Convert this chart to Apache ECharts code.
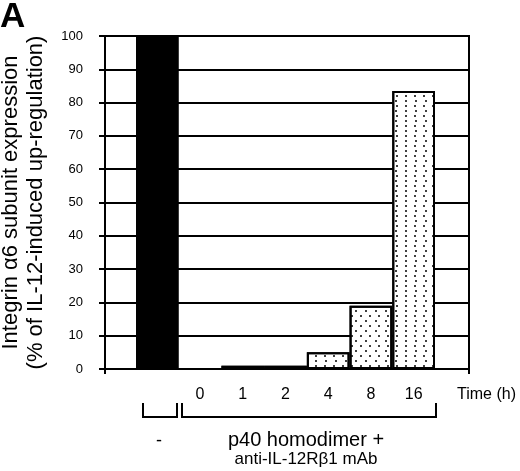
<!DOCTYPE html>
<html>
<head>
<meta charset="utf-8">
<script src="https://cdn.jsdelivr.net/npm/echarts@6/dist/echarts.min.js"></script>
<style>html,body{margin:0;padding:0;background:#fff;}#c{width:520px;height:471px;}</style>
</head>
<body>
<div id="c"></div>
<script>
const categories = ['-', '0', '1', '2', '4', '8', '16'];
const expression = [100, 0, 1, 1, 5, 19, 83.5];
const yMin = 0, yMax = 100, yStep = 10;
const yTitle = 'Integrin \u03b16 subunit expression\n(% of IL-12-induced up-regulation)';

const FONT = 'Liberation Sans, Arial, Helvetica, sans-serif';
const dotDecal = {
  symbol: 'circle',
  symbolSize: 1,
  color: '#000',
  dashArrayX: [[2, 7], [0, 4.5, 2, 2.5]],
  dashArrayY: [2, 2.4],
  rotation: 0
};
const barData = expression.map((v, i) => ({
  value: v,
  itemStyle: i === 0
    ? { color: '#000', borderColor: '#000', borderWidth: 1 }
    : { color: '#fff', borderColor: '#000', borderWidth: 2, decal: dotDecal }
}));

const chart = echarts.init(document.getElementById('c'), null, { renderer: 'canvas' });
chart.setOption({
  animation: false,
  backgroundColor: '#fff',
  textStyle: { fontFamily: FONT, color: '#000' },
  grid: [
    { left: 105, right: 51, top: 36, bottom: 102, containLabel: false, outerBoundsMode: 'none',
      show: true, borderColor: '#000', borderWidth: 2, backgroundColor: 'transparent' },
    { left: 136, right: 85, top: 36, bottom: 102, containLabel: false, outerBoundsMode: 'none' }
  ],
  xAxis: [
    { type: 'value', gridIndex: 0, min: 0, max: 1, interval: 1,
      axisLine: { show: true, lineStyle: { color: '#000', width: 2 } },
      axisTick: { show: true, length: 5, lineStyle: { color: '#000', width: 2 } },
      axisLabel: { show: false }, splitLine: { show: false } },
    { type: 'category', gridIndex: 1, data: categories,
      axisLine: { show: false }, axisTick: { show: false },
      axisLabel: { fontSize: 16, color: '#000', fontFamily: FONT, margin: 18, interval: 0,
        formatter: v => (v === '-' ? '' : v) } }
  ],
  yAxis: [
    { type: 'value', gridIndex: 0, min: yMin, max: yMax, interval: yStep,
      name: yTitle, nameLocation: 'middle', nameRotate: 90, nameGap: 57,
      nameTextStyle: { fontSize: 22, lineHeight: 25, color: '#000', fontFamily: FONT, align: 'center' },
      axisLine: { show: true, lineStyle: { color: '#000', width: 2 } },
      axisTick: { show: true, length: 6, lineStyle: { color: '#000', width: 2 } },
      axisLabel: { fontSize: 13, color: '#000', fontFamily: FONT, margin: 22 },
      splitLine: { show: true, lineStyle: { color: '#000', width: 2 } } },
    { type: 'value', gridIndex: 1, min: yMin, max: yMax, interval: yStep, show: false,
      splitLine: { show: false } }
  ],
  series: [
    { type: 'bar', xAxisIndex: 1, yAxisIndex: 1, data: barData, barCategoryGap: '0%', barWidth: '100%', z: 3 }
  ],
  graphic: [
    { type: 'text', left: 0, top: 0, style: { x: 0, y: 0, text: 'A', fontSize: 35, fontWeight: 'bold', fontFamily: FONT, fill: '#000' } },
    { type: 'text', style: { x: 457, y: 395, text: 'Time (h)', fontSize: 16, fontFamily: FONT, fill: '#000', textAlign: 'left', textVerticalAlign: 'middle' } },
    { type: 'text', style: { x: 159, y: 441, text: '-', fontSize: 18, fontFamily: FONT, fill: '#000', textAlign: 'center', textVerticalAlign: 'middle' } },
    { type: 'text', style: { x: 306, y: 440, text: 'p40 homodimer +', fontSize: 20, fontFamily: FONT, fill: '#000', textAlign: 'center', textVerticalAlign: 'middle' } },
    { type: 'text', style: { x: 306, y: 459, text: 'anti-IL-12R\u03b21 mAb', fontSize: 17, fontFamily: FONT, fill: '#000', textAlign: 'center', textVerticalAlign: 'middle' } },
    { type: 'polyline', shape: { points: [[143, 403], [143, 417], [177, 417], [177, 403]] }, style: { stroke: '#000', lineWidth: 2, fill: null } },
    { type: 'polyline', shape: { points: [[182, 403], [182, 417], [436, 417], [436, 403]] }, style: { stroke: '#000', lineWidth: 2, fill: null } }
  ]
});
</script>
</body>
</html>
